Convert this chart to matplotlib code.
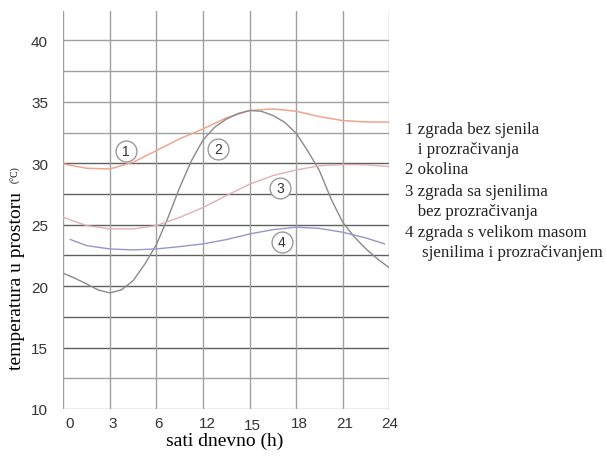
import numpy as np
import matplotlib
matplotlib.use('Agg')
import matplotlib.pyplot as plt
import matplotlib.transforms as mtransforms

# Oznake sati na osi x (stupci mreze su jednako razmaknuti)
sati_oznake = ['0', '3', '6', '12', '15', '18', '21', '24']
# Polozaji ocitanja (pola stupca mreze)
x_stup = np.arange(0, 7.01, 0.5)
x_stup2 = np.arange(0, 7.01, 0.25)

# 1 zgrada bez sjenila i prozracivanja
t_zgrada1 = [29.95, 29.6, 29.54, 30.09, 31.04, 32.0, 32.8, 33.7, 34.3, 34.43, 34.24, 33.8, 33.48, 33.37, 33.35]
# 2 okolina (ocitano na cetvrtinu stupca)
t_okolina = [21.05, 20.64, 20.18, 19.69, 19.45, 19.7, 20.45, 21.8, 23.4, 25.6, 28.05, 30.2,
             31.9, 32.94, 33.6, 34.05, 34.3, 34.24, 33.9, 33.35, 32.45, 31.0, 29.4, 27.1,
             25.2, 24.0, 23.03, 22.2, 21.5]
# 3 zgrada sa sjenilima bez prozracivanja
t_zgrada3 = [25.6, 24.93, 24.66, 24.66, 24.93, 25.6, 26.4, 27.37, 28.3, 29.0, 29.46, 29.8, 29.9, 29.88, 29.73]
# 4 zgrada s velikom masom, sjenilima i prozracivanjem
x_stup4 = [0.15, 0.5, 1, 1.5, 2, 2.5, 3, 3.5, 4, 4.5, 5, 5.5, 6, 6.5, 6.9]
t_zgrada4 = [23.8, 23.3, 23.03, 22.95, 23.03, 23.22, 23.44, 23.79, 24.25, 24.6, 24.8, 24.7, 24.39, 23.92, 23.44]

# Oznake krivulja (kruzici)
oznake = ['1', '2', '3', '4']
oznake_x = [1.34, 3.32, 4.65, 4.69]
oznake_y = [31.0, 31.2, 28.0, 23.6]

legenda = ['1 zgrada bez sjenila', '   i prozračivanja', '2 okolina',
           '3 zgrada sa sjenilima', '   bez prozračivanja',
           '4 zgrada s velikom masom', '    sjenilima i prozračivanjem']

fig = plt.figure(figsize=(6.06, 4.60), dpi=100)
ax = fig.add_axes([0.1045, 0.1087, 0.5379, 0.8652])

# mreza
tamne = [30, 27.5, 25, 22.5, 20, 17.5, 15]
for v in np.arange(10, 40.1, 2.5):
    boja = '#606060' if v in tamne else '#a0a0a0'
    ax.axhline(v, color=boja, lw=1.0, zorder=1)
for c in range(8):
    ax.axvline(c, color='#a0a0a0', lw=1.0, zorder=1)

ax.plot(x_stup, t_zgrada1, color='#eea68e', lw=1.1, zorder=3)
ax.plot(x_stup2, t_okolina, color='#8a8a8a', lw=1.0, zorder=3)
ax.plot(x_stup, t_zgrada3, color='#e2afb6', lw=1.0, zorder=3)
ax.plot(x_stup4, t_zgrada4, color='#9696cc', lw=1.0, zorder=3)

for txt, xx, yy in zip(oznake, oznake_x, oznake_y):
    ax.plot(xx, yy, marker='o', ms=15, mfc='white', mec='#9a9a9a', mew=1.0, zorder=4)
    ax.text(xx, yy, txt, ha='center', va='center', fontsize=10,
            family='Liberation Sans', color='#333333', zorder=5)

ax.set_xlim(0, 7)
ax.set_ylim(10, 42.4)
ax.set_xticks(range(8))
ax.set_xticklabels(sati_oznake, family='Liberation Sans', fontsize=11, color='#333333')
ax.set_yticks(range(10, 41, 5))
ax.set_yticklabels([str(v) for v in range(10, 41, 5)], family='Liberation Sans',
                   fontsize=11, color='#333333')
ax.tick_params(length=0)
ax.tick_params(axis='y', pad=11)
ax.tick_params(axis='x', pad=5)
# pomaci oznaka na osi x kao u originalu (u pikselima)
pomak_x = [6, 3, 2, 4, 3, 3, 2, 0]
pomak_y = [0, 0, 0, 0, -2, 0, 0, 0]
for lbl, dx, dy in zip(ax.get_xticklabels(), pomak_x, pomak_y):
    lbl.set_transform(lbl.get_transform() + mtransforms.ScaledTranslation(dx / 100, dy / 100, fig.dpi_scale_trans))
for s in ax.spines.values():
    s.set_visible(False)

fig.text(225 / 606, 1 - 441 / 460, 'sati dnevno (h)', ha='center', va='center',
         family='Liberation Serif', fontsize=14)
fig.text(17 / 606, 1 - 281 / 460, 'temperatura u prostoru', ha='center', va='center',
         rotation=90, family='Liberation Serif', fontsize=14)
fig.text(16 / 606, 1 - 175 / 460, '(°C)', ha='center', va='center',
         rotation=90, family='Liberation Serif', fontsize=7)

leg_y = [130, 150, 170, 191.7, 211.7, 233.3, 253.3]
for txt, yy in zip(legenda, leg_y):
    fig.text(405 / 606, 1 - yy / 460, txt, ha='left', va='center',
             family='Liberation Serif', fontsize=12.2, color='#222222')

fig.savefig('out.png', dpi=100)
